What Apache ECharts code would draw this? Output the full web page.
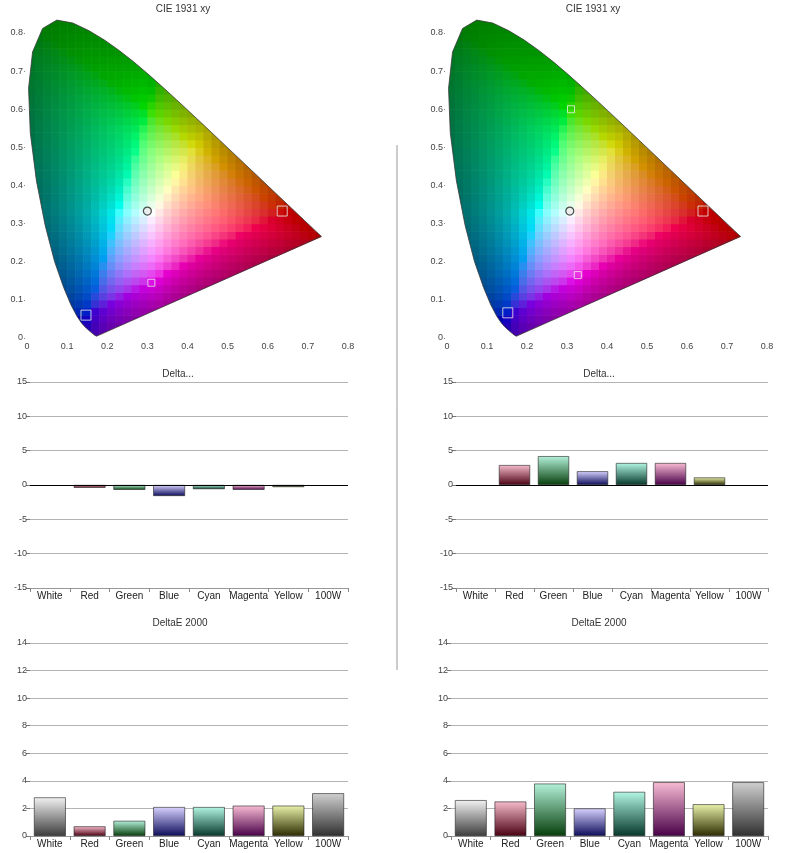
<!DOCTYPE html>
<html><head><meta charset="utf-8">
<script src="https://cdn.jsdelivr.net/npm/echarts/dist/echarts.min.js"></script>
<style>html,body{margin:0;padding:0;background:#fff}#c{width:792px;height:853px}</style>
</head><body><div id="c"></div>
<script>
// ---------- data ----------
const categories = ['White', 'Red', 'Green', 'Blue', 'Cyan', 'Magenta', 'Yellow', '100W'];
const deltaLeft  = [0, -0.4, -0.7, -1.6, -0.6, -0.7, -0.3, 0];
const deltaRight = [0, 2.9, 4.2, 2.0, 3.2, 3.2, 1.1, 0];
const deltaE2000Left  = [2.8, 0.7, 1.1, 2.1, 2.1, 2.2, 2.2, 3.1];
const deltaE2000Right = [2.6, 2.5, 3.8, 2.0, 3.2, 3.9, 2.3, 3.9];

// CIE 1931 2° spectral locus (380–700 nm)
const locusX = [0.1741,0.1738,0.1733,0.1726,0.1714,0.1689,0.1644,0.1566,0.1440,0.1355,0.1241,0.1096,0.0913,0.0687,0.0454,0.0235,0.0082,0.0039,0.0139,0.0389,0.0743,0.1142,0.1547,0.1929,0.2296,0.2658,0.3016,0.3373,0.3731,0.4087,0.4441,0.4788,0.5125,0.5448,0.5752,0.6029,0.6270,0.6482,0.6658,0.6915,0.7079,0.7190,0.7260,0.7300,0.7334,0.7347];
const locusY = [0.0050,0.0049,0.0048,0.0048,0.0051,0.0069,0.0109,0.0177,0.0297,0.0399,0.0578,0.0868,0.1327,0.2007,0.2950,0.4127,0.5384,0.6548,0.7502,0.8120,0.8338,0.8262,0.8059,0.7816,0.7543,0.7243,0.6923,0.6589,0.6245,0.5896,0.5547,0.5202,0.4866,0.4544,0.4242,0.3965,0.3725,0.3514,0.3340,0.3083,0.2920,0.2809,0.2740,0.2700,0.2666,0.2653];

// chromaticity markers
const leftMarkNames  = ['White', 'Red', 'Blue', 'Magenta'];
const leftMarkX  = [0.300, 0.636, 0.147, 0.310];
const leftMarkY  = [0.333, 0.333, 0.060, 0.145];
const rightMarkNames = ['White', 'Red', 'Green', 'Blue', 'Magenta'];
const rightMarkX = [0.307, 0.640, 0.310, 0.152, 0.327];
const rightMarkY = [0.333, 0.333, 0.600, 0.066, 0.165];

const cieTicks = [0, 0.1, 0.2, 0.3, 0.4, 0.5, 0.6, 0.7, 0.8];

// ---------- styles ----------
const barTop    = ['#f2f2f2', '#f6bccb', '#b4f2da', '#d8d2ff', '#b2f6e2', '#f8bcd4', '#eaf2aa', '#d0d0d0'];
const barBottom = ['#3c3c3c', '#4a0012', '#063e0a', '#0c0c5a', '#06382a', '#480048', '#2c2c00', '#303030'];
const FONT = 'Liberation Sans';

// ---------- CIE helpers ----------
const poly = locusX.map((x, i) => [x, locusY[i]]);
const WP = [0.3127, 0.329];
function inside(p) {
  let c = false;
  for (let i = 0, j = poly.length - 1; i < poly.length; j = i++) {
    const a = poly[i], b = poly[j];
    if (((a[1] > p[1]) !== (b[1] > p[1])) &&
        (p[0] < (b[0] - a[0]) * (p[1] - a[1]) / (b[1] - a[1]) + a[0])) c = !c;
  }
  return c;
}
function relDist(x, y) {
  const dx = x - WP[0], dy = y - WP[1];
  if (Math.abs(dx) + Math.abs(dy) < 1e-6) return 0;
  let best = Infinity;
  for (let i = 0; i < poly.length; i++) {
    const A = poly[i], B = poly[(i + 1) % poly.length];
    const ex = B[0] - A[0], ey = B[1] - A[1];
    const den = dx * ey - dy * ex;
    if (Math.abs(den) < 1e-12) continue;
    const ax = A[0] - WP[0], ay = A[1] - WP[1];
    const t = (ax * ey - ay * ex) / den;
    const u = (ax * dy - ay * dx) / den;
    if (u >= 0 && u <= 1 && t > 0 && t < best) best = t;
  }
  return best === Infinity ? 1 : Math.min(1, 1 / best);
}
function gam(c) { c = Math.max(0, Math.min(1, c)); return c <= 0.0031308 ? 12.92 * c : 1.055 * Math.pow(c, 1 / 2.4) - 0.055; }
function xyColor(x, y) {
  y = Math.max(y, 0.003);
  const X = x / y, Z = (1 - x - y) / y;
  let r = 3.2406 * X - 1.5372 - 0.4986 * Z;
  let g = -0.9689 * X + 1.8758 + 0.0415 * Z;
  let b = 0.0557 * X - 0.2040 + 1.0570 * Z;
  const mx = Math.max(r, g, b, 1e-6);
  const neg = Math.max(0, -Math.min(r, g, b));
  r = Math.max(r, 0) / mx; g = Math.max(g, 0) / mx; b = Math.max(b, 0) / mx;
  const ratio = neg / mx;
  const s = relDist(x, y);
  const f = (1 / (1 + 2 * ratio)) * (1 - 0.5 * Math.max(0, (s - 0.45) / 0.55));
  return 'rgb(' + Math.round(gam(r * f) * 255) + ',' + Math.round(gam(g * f) * 255) + ',' + Math.round(gam(b * f) * 255) + ')';
}
function signedArea(pts) {
  let a = 0;
  for (let i = 0; i < pts.length; i++) { const p = pts[i], q = pts[(i + 1) % pts.length]; a += p[0] * q[1] - q[0] * p[1]; }
  return a / 2;
}
function cieBackground(params, api) {
  const children = [];
  const step = 0.02;
  for (let i = 0; i < 40; i++) {
    for (let j = 0; j < 43; j++) {
      const cx = i * step, cy = j * step;
      const pts = [[cx, cy], [cx + step, cy], [cx, cy + step], [cx + step, cy + step], [cx + step / 2, cy + step / 2]];
      if (!pts.some(inside)) continue;
      const p0 = api.coord([cx, cy + step]);
      const p1 = api.coord([cx + step, cy]);
      children.push({
        type: 'rect',
        shape: { x: p0[0], y: p0[1], width: p1[0] - p0[0] + 0.6, height: p1[1] - p0[1] + 0.6 },
        style: { fill: xyColor(cx + step / 2, cy + step / 2) }
      });
    }
  }
  // white mask outside the spectral locus
  const rect = [[-0.005, -0.008], [0.805, -0.008], [0.805, 0.865], [-0.005, 0.865]].map(p => api.coord(p));
  let loc = poly.map(p => api.coord(p));
  if (Math.sign(signedArea(rect)) === Math.sign(signedArea(loc))) loc = loc.slice().reverse();
  const maskPts = rect.concat([rect[0]], loc, [loc[0]]);
  children.push({ type: 'polygon', shape: { points: maskPts }, style: { fill: '#fff' } });
  return { type: 'group', children };
}

// ---------- chart ----------
const grids = [
  { left: 27, top: 33, width: 321, height: 305 },
  { left: 447, top: 33, width: 320, height: 305 },
  { left: 30, top: 382, width: 318, height: 206 },
  { left: 456, top: 382, width: 312, height: 206 },
  { left: 30, top: 643, width: 318, height: 193 },
  { left: 451, top: 643, width: 317, height: 193 }
];

const cieFmt = v => (Math.abs(v) < 1e-9 ? '0' : v.toFixed(1));
function cieAxis(idx) {
  return { type: 'value', gridIndex: idx, min: cieTicks[0], max: cieTicks[cieTicks.length - 1], interval: 0.1,
    axisLine: { show: false }, splitLine: { show: false },
    axisTick: { show: true, length: 3, lineStyle: { color: '#888' } },
    axisLabel: { formatter: cieFmt, fontSize: 9, color: '#444', fontFamily: FONT, margin: 4 } };
}
function catX(idx) {
  return { type: 'category', gridIndex: idx, data: categories,
    axisLine: { show: true, onZero: false, lineStyle: { color: '#999' } },
    axisTick: { show: true, length: 4, lineStyle: { color: '#888' } },
    axisLabel: { fontSize: 10, color: '#222', fontFamily: FONT, margin: 3, interval: 0 } };
}
function valY(idx, min, max, interval) {
  return { type: 'value', gridIndex: idx, min, max, interval,
    axisLine: { show: false },
    axisTick: { show: true, length: 4, lineStyle: { color: '#777' } },
    splitLine: { show: true, lineStyle: { color: '#b4b4b4', width: 1 } },
    axisLabel: { fontSize: 9, color: '#444', fontFamily: FONT, margin: 3 } };
}

function grad(i) {
  return { type: 'linear', x: 0, y: 0, x2: 0, y2: 1,
    colorStops: [{ offset: 0, color: barTop[i] }, { offset: 1, color: barBottom[i] }] };
}
function barSeries(idx, values, zeroLine) {
  const s = { type: 'bar', xAxisIndex: idx, yAxisIndex: idx, barCategoryGap: '20%',
    data: values.map((v, i) => ({ value: v, itemStyle: { color: grad(i), borderColor: '#222', borderWidth: v === 0 ? 0 : 0.6 } })) };
  if (zeroLine) {
    s.markLine = { silent: true, symbol: 'none', label: { show: false },
      lineStyle: { color: '#000', width: 1, type: 'solid' }, data: [{ yAxis: 0 }] };
  }
  return s;
}
function cieSeries(idx, names, mx, my) {
  const outline = locusX.map((x, i) => [x, locusY[i]]);
  outline.push([locusX[0], locusY[0]]);
  return [
    { type: 'custom', xAxisIndex: idx, yAxisIndex: idx, z: 1, clip: false, silent: true,
      data: [[0.4, 0.4]], renderItem: cieBackground },
    { type: 'line', xAxisIndex: idx, yAxisIndex: idx, z: 3, clip: false, showSymbol: false, silent: true,
      data: outline, lineStyle: { color: '#3a3a3a', width: 0.8 } },
    { type: 'scatter', xAxisIndex: idx, yAxisIndex: idx, z: 4, silent: true,
      data: names.map((n, i) => n === 'White'
        ? { value: [mx[i], my[i]], symbol: 'circle', symbolSize: 8, itemStyle: { color: '#e8e8e8', borderColor: '#222', borderWidth: 1.2 } }
        : { value: [mx[i], my[i]], symbol: 'rect', symbolSize: n === 'Green' || n === 'Magenta' ? 7 : 10,
            itemStyle: { color: 'rgba(0,0,0,0)', borderColor: '#eeeeee', borderWidth: 1 } }) }
  ];
}

function txt(x, y, t) {
  return { type: 'text', x, y, z: 100, style: { text: t, align: 'center', verticalAlign: 'middle', fontSize: 10, fontFamily: FONT, fill: '#333' } };
}

const option = {
  animation: false,
  backgroundColor: '#fff',
  grid: grids,
  xAxis: [cieAxis(0), cieAxis(1), catX(2), catX(3), catX(4), catX(5)],
  yAxis: [cieAxis(0), cieAxis(1), valY(2, -15, 15, 5), valY(3, -15, 15, 5), valY(4, 0, 14, 2), valY(5, 0, 14, 2)],
  series: [].concat(
    cieSeries(0, leftMarkNames, leftMarkX, leftMarkY),
    cieSeries(1, rightMarkNames, rightMarkX, rightMarkY),
    [barSeries(2, deltaLeft, true), barSeries(3, deltaRight, true),
     barSeries(4, deltaE2000Left, false), barSeries(5, deltaE2000Right, false)]
  ),
  graphic: [
    txt(183, 9, 'CIE 1931 xy'), txt(593, 9, 'CIE 1931 xy'),
    txt(178, 374, 'Delta...'), txt(599, 374, 'Delta...'),
    txt(180, 623, 'DeltaE 2000'), txt(599, 623, 'DeltaE 2000'),
    { type: 'line', z: 100, shape: { x1: 397, y1: 145, x2: 397, y2: 670 }, style: { stroke: '#999', lineWidth: 1 } }
  ]
};
const chart = echarts.init(document.getElementById('c'), null, { renderer: 'canvas' });
chart.setOption(option);
</script>
</body></html>
